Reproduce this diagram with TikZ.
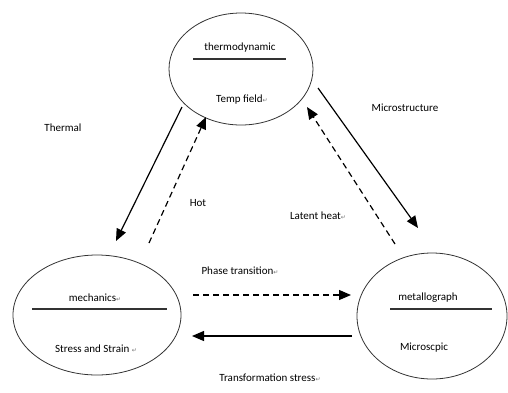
\documentclass[tikz,border=0pt]{standalone}
\usepackage{fontspec}
\setmainfont{Carlito}
\newfontfamily\markfont{DejaVu Sans}
\usetikzlibrary{arrows.meta,shapes.geometric,positioning}
\newcommand{\parmark}{{\markfont\fontsize{6}{6}\selectfont\color{black!55}↵}}
\tikzset{
    %Define standard arrow tip
    >={Triangle[length=12pt,width=10pt]},
    %Define style for the fields
    field/.style={
           ellipse,
           draw=black!80,
           line width=0.8pt,
           inner sep=0pt},
    title/.style={
           font=\fontsize{11}{13}\selectfont,
           inner sep=1pt},
    divider/.style={
           draw=black!80,
           line width=1.1pt},
    % Define arrow styles
    flow/.style={
           ->,
           line width=1.2pt},
    feedback/.style={
           ->,
           line width=1.2pt,
           dash pattern=on 6pt off 4pt},
    tag/.style={
           font=\fontsize{11}{13}\selectfont,
           inner sep=1pt}
}
\begin{document}
\begin{tikzpicture}[x=1pt,y=-1pt]
\useasboundingbox (0,0) rectangle (508,392);

 %fields
\node[field, minimum width=144pt, minimum height=112pt](thermo) at (241,69){};
\node[field, minimum width=168pt, minimum height=120pt](mech) at (97,315){};
\node[field, minimum width=150pt, minimum height=126pt](metal) at (432,316){};

 %texts inside
\node[title](thermo-t) at (240,48){thermodynamic};
\path[divider] (193,59) -- (286,59);
\node[title](thermo-b) at (242,100){Temp field\parmark};

\node[title](mech-t) at (95,298){mechanics\parmark};
\path[divider] (32,309) -- (167,309);
\node[title](mech-b) at (96,349){Stress and Strain \parmark};

\node[title](metal-t) at (428,298){metallograph};
\path[divider] (390,309) -- (492,309);
\node[title](metal-b) at (424,348){Microscpic};

 %arrow ends
\coordinate (thermal-s) at (182,107);
\coordinate (thermal-e) at (116,241);
\coordinate (hot-s) at (149,243);
\coordinate (hot-e) at (206,117);
\coordinate (micro-s) at (318,88);
\coordinate (micro-e) at (418,228);
\coordinate (latent-s) at (395,244);
\coordinate (latent-e) at (307,107);
\coordinate (phase-s) at (193,295);
\coordinate (phase-e) at (351,295);
\coordinate (trans-s) at (352,336);
\coordinate (trans-e) at (192,336);

\draw[flow] (thermal-s) -- (thermal-e);
\draw[feedback] (hot-s) -- (hot-e);
\draw[flow] (micro-s) -- (micro-e);
\draw[feedback] (latent-s) -- (latent-e);
\draw[feedback] (phase-s) -- (phase-e);
\draw[flow] (trans-s) -- (trans-e);

 %labels
\node[tag](thermal) at (63,128){Thermal};
\node[tag](hot) at (198,203){Hot};
\node[tag](micro) at (405,108){Microstructure};
\node[tag](latent) at (318,216){Latent heat\parmark};
\node[tag](phase) at (240,271){Phase transition\parmark};
\node[tag](trans) at (270,378){Transformation stress\parmark};
\end{tikzpicture}
\end{document}
